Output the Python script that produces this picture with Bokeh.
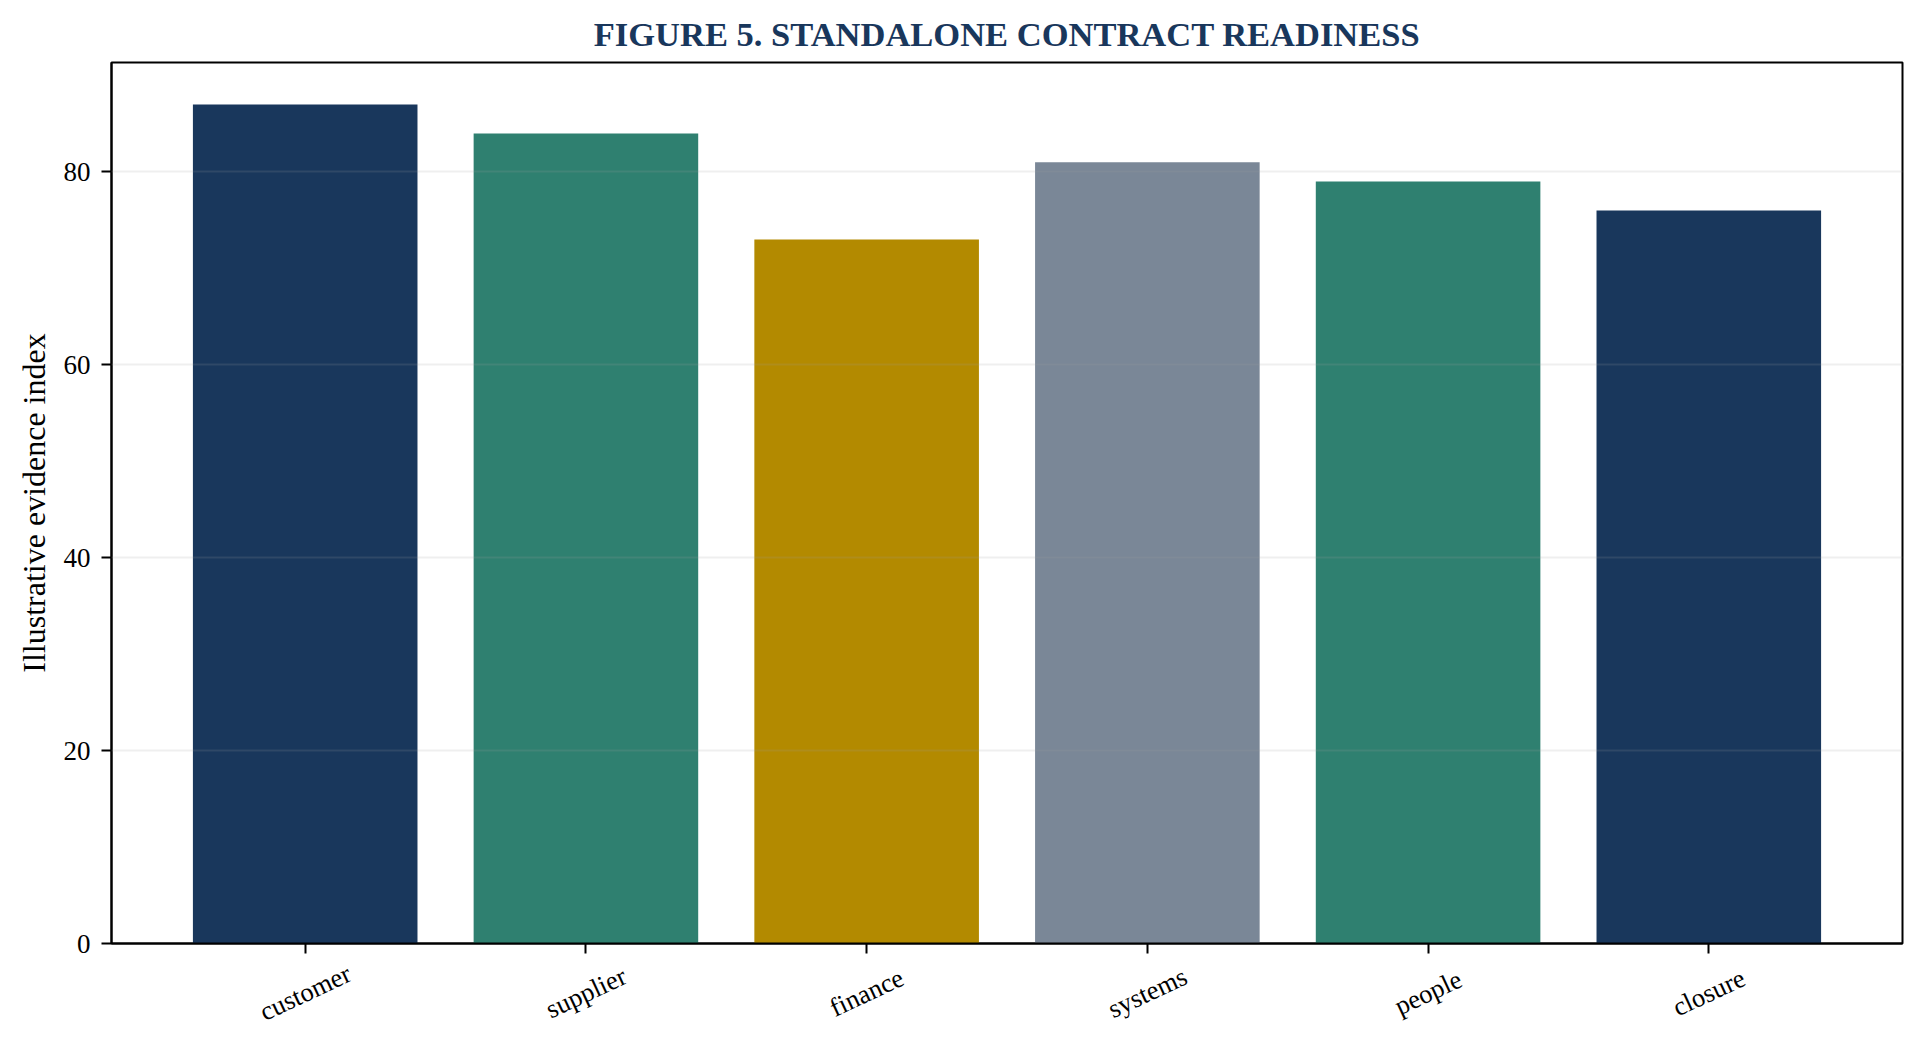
from bokeh.plotting import figure
from bokeh.layouts import column
from bokeh.models import Range1d, FixedTicker, ColumnDataSource
from bokeh.embed import file_html
from bokeh.resources import INLINE
import math

categories = ["customer", "supplier", "finance", "systems", "people", "closure"]
values = [87, 84, 73, 81, 79, 76]
bar_colors = ["#19375C", "#2F8070", "#B38A00", "#7A8797", "#2F8070", "#19375C"]
y_ticks = [0, 20, 40, 60, 80]

FONT = "Liberation Serif"

MAIN_H = 958
LAB_H = 75
LAB_CENTER = 34  # px from top of label strip

xs = list(range(len(categories)))
src = ColumnDataSource(dict(x=xs, top=values, color=bar_colors))
lab_src = ColumnDataSource(dict(x=xs, y=[1 - LAB_CENTER / LAB_H] * len(xs), text=categories))

x_range = Range1d(-0.69, len(categories) - 1 + 0.69)

p = figure(width=1908, height=MAIN_H, output_backend="svg", toolbar_location=None,
           x_range=x_range,
           y_range=Range1d(0, max(values) * 1.05),
           min_border_left=111, min_border_right=6, min_border_top=62, min_border_bottom=15)

p.vbar(x="x", top="top", bottom=0, width=0.8, fill_color="color", line_color=None, source=src)

p.title.text = "FIGURE 5. STANDALONE CONTRACT READINESS"
p.title.align = "center"
p.title.text_font = FONT
p.title.text_font_style = "bold"
p.title.text_font_size = "34.5px"
p.title.text_color = "#19375C"
p.title.standoff = 19

p.outline_line_color = "black"
p.outline_line_width = 2
p.outline_line_alpha = 1

p.xgrid.visible = False
p.ygrid.ticker = FixedTicker(ticks=y_ticks)
p.ygrid.grid_line_color = "#9e9e9e"
p.ygrid.grid_line_alpha = 0.17
p.ygrid.grid_line_width = 2
p.ygrid.level = "overlay"

p.xaxis.ticker = FixedTicker(ticks=xs)
p.xaxis.major_label_text_font_size = "0px"
p.xaxis.major_label_text_alpha = 0
p.xaxis.major_label_standoff = 0
p.yaxis.ticker = FixedTicker(ticks=y_ticks)
p.yaxis.axis_label = "Illustrative evidence index"

for ax in (p.xaxis, p.yaxis):
    ax.axis_line_color = "black"
    ax.axis_line_width = 2
    ax.major_tick_line_color = "black"
    ax.major_tick_line_width = 2
    ax.major_tick_out = 10
    ax.major_tick_in = 0
    ax.minor_tick_line_color = None
    ax.axis_label_text_font = FONT
    ax.axis_label_text_font_size = "32px"
    ax.axis_label_text_font_style = "normal"
    ax.axis_label_text_color = "black"

p.yaxis.major_label_text_font = FONT
p.yaxis.major_label_text_font_size = "27px"
p.yaxis.major_label_text_color = "black"
p.yaxis.major_label_standoff = 11
p.yaxis.axis_label_standoff = 9

# category labels, rotated and centred under each tick
lp = figure(width=1908, height=LAB_H, output_backend="svg", toolbar_location=None,
            x_range=x_range, y_range=Range1d(0, 1),
            min_border_left=111, min_border_right=6, min_border_top=0, min_border_bottom=0)
lp.text(x="x", y="y", text="text", source=lab_src, angle=math.radians(25),
        text_align="center", text_baseline="middle",
        text_font=FONT, text_font_size="26.5px", text_color="black")
lp.axis.visible = False
lp.grid.visible = False
lp.outline_line_color = None

layout = column(p, lp, spacing=0)

open("out.html", "w").write(file_html(layout, INLINE))
